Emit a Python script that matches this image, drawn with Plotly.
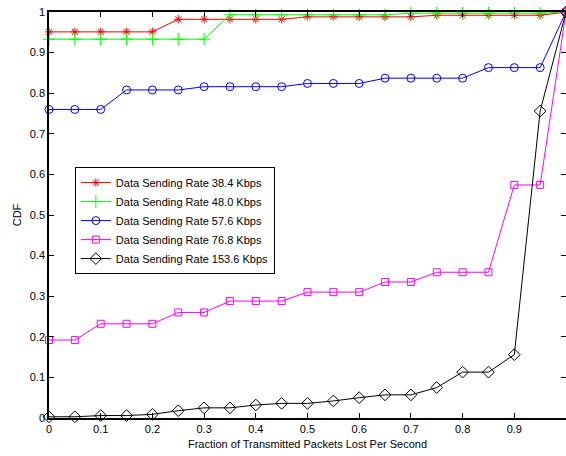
import plotly.graph_objects as go

x_vals = [0, 0.05, 0.1, 0.15, 0.2, 0.25, 0.3, 0.35, 0.4, 0.45, 0.5,
          0.55, 0.6, 0.65, 0.7, 0.75, 0.8, 0.85, 0.9, 0.95, 1.0]

rate_384 = [0.951, 0.951, 0.951, 0.951, 0.951, 0.982, 0.982, 0.982, 0.982, 0.982, 0.988,
            0.988, 0.988, 0.988, 0.988, 0.992, 0.992, 0.992, 0.992, 0.992, 1.0]
rate_480 = [0.933, 0.933, 0.933, 0.933, 0.933, 0.933, 0.933, 0.993, 0.993, 0.993, 0.993,
            0.993, 0.993, 0.993, 0.997, 0.997, 0.997, 0.997, 0.997, 0.997, 1.0]
rate_576 = [0.760, 0.760, 0.760, 0.808, 0.808, 0.808, 0.816, 0.816, 0.816, 0.816, 0.824,
            0.824, 0.824, 0.837, 0.837, 0.837, 0.837, 0.863, 0.863, 0.863, 1.0]
rate_768 = [0.192, 0.192, 0.232, 0.232, 0.232, 0.260, 0.260, 0.288, 0.288, 0.288, 0.310,
            0.310, 0.310, 0.335, 0.335, 0.359, 0.359, 0.359, 0.574, 0.574, 1.0]
rate_1536 = [0.003, 0.003, 0.006, 0.006, 0.009, 0.018, 0.025, 0.025, 0.032, 0.036, 0.036,
             0.042, 0.050, 0.057, 0.057, 0.075, 0.113, 0.113, 0.156, 0.756, 1.0]

names = ["Data Sending Rate 38.4 Kbps", "Data Sending Rate 48.0 Kbps",
         "Data Sending Rate 57.6 Kbps", "Data Sending Rate 76.8 Kbps",
         "Data Sending Rate 153.6 Kbps"]
series = [rate_384, rate_480, rate_576, rate_768, rate_1536]
colors = ["#ff0000", "#00ff00", "#0000ff", "#ff00ff", "#000000"]
symbols = ["asterisk-open", "cross-thin-open", "circle-open", "square-open", "diamond-open"]
sizes = [7, 9, 8, 7, 9]

tick_vals = [0, 0.1, 0.2, 0.3, 0.4, 0.5, 0.6, 0.7, 0.8, 0.9, 1]
tick_text = ["0", "0.1", "0.2", "0.3", "0.4", "0.5", "0.6", "0.7", "0.8", "0.9", "1"]

fig = go.Figure()
for name, ys, c, s, sz in zip(names, series, colors, symbols, sizes):
    fig.add_trace(go.Scatter(
        x=x_vals, y=ys, name=name, mode="lines+markers",
        line=dict(color=c, width=1),
        marker=dict(symbol=s, size=sz, color=c, line=dict(color=c, width=1)),
        cliponaxis=False,
    ))

axis_common = dict(
    showline=True, linecolor="black", linewidth=1.5, mirror="ticks",
    ticks="inside", ticklen=5, tickcolor="black", tickwidth=1,
    showgrid=False, zeroline=False, automargin=False,
    tickfont=dict(family="Liberation Sans, Arial", size=11, color="black"),
    tickvals=tick_vals, ticktext=tick_text,
)

fig.update_layout(
    width=566, height=456,
    margin=dict(l=49, r=0, t=12, b=38),
    paper_bgcolor="white", plot_bgcolor="white",
    font=dict(family="Liberation Sans, Arial", size=10, color="black"),
    xaxis=dict(range=[0, 1], title=dict(text="Fraction of Transmitted Packets Lost Per Second",
                                         font=dict(size=11), standoff=6), **axis_common),
    yaxis=dict(range=[0, 1], title=dict(text="CDF", font=dict(size=11), standoff=6), **axis_common),
    legend=dict(x=0.05, y=0.618, xanchor="left", yanchor="top",
                bgcolor="white", bordercolor="black", borderwidth=1,
                font=dict(family="Liberation Sans, Arial", size=11, color="black"),
                tracegroupgap=0),
    showlegend=True,
)

fig.write_html(
    "out.html",
    config={"displayModeBar": False},
    post_script="document.body.style.margin='0';document.body.style.overflow='hidden';",
)
